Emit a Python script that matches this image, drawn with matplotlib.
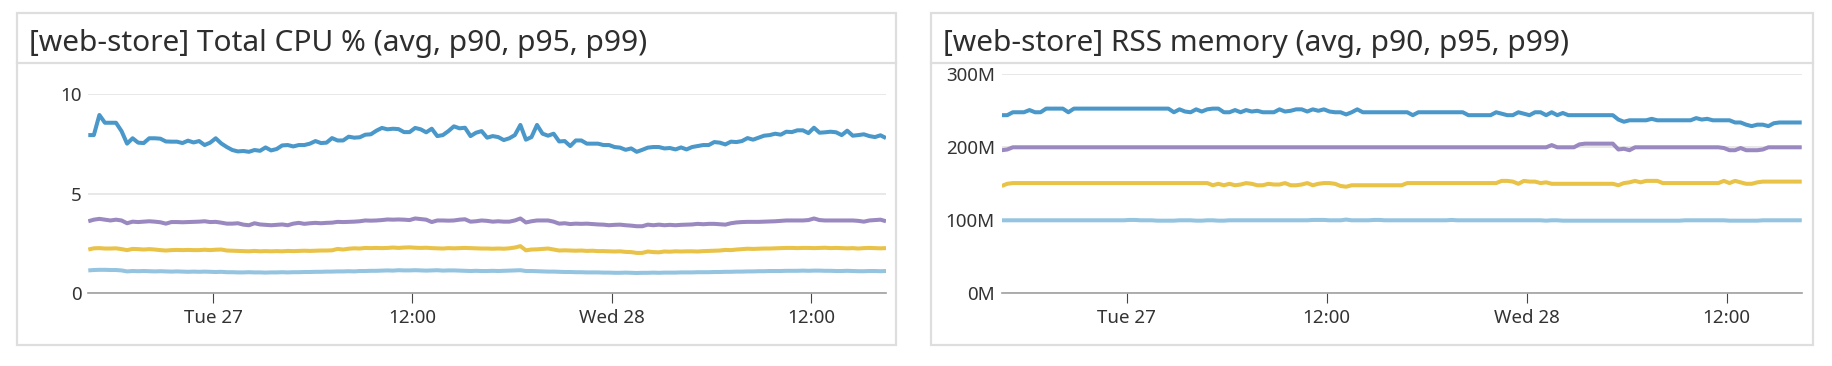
import matplotlib
matplotlib.use("Agg")
import matplotlib.pyplot as plt
import matplotlib.dates as mdates
from matplotlib.lines import Line2D
from matplotlib.patches import Rectangle
from matplotlib.ticker import FuncFormatter
import pandas as pd

plt.rcParams["font.family"] = ["Noto Sans", "DejaVu Sans"]

W, H, DPI = 1832, 366, 100

# one reading every 20 min, Mon 26 16:30 -> Wed 28 16:30
START = "2018-02-26 16:30"
STEP = "20min"

SERIES = ["avg", "p90", "p95", "p99"]
COLORS = {"avg": "#94c4e0", "p90": "#e9c248", "p95": "#9a88c0", "p99": "#4a97c9"}

CPU_TITLE = "[web-store] Total CPU % (avg, p90, p95, p99)"
MEM_TITLE = "[web-store] RSS memory (avg, p90, p95, p99)"
CPU_TICKS = [0, 5, 10]
MEM_TICKS = [0, 100, 200, 300]

# --- Total CPU % ---
cpu_avg = [
    1.15, 1.17, 1.18, 1.18, 1.17, 1.17, 1.15, 1.1, 1.12, 1.11, 1.12, 1.11,
    1.1, 1.11, 1.1, 1.09, 1.1, 1.09, 1.08, 1.09, 1.08, 1.09, 1.08, 1.07,
    1.08, 1.06, 1.06, 1.05, 1.05, 1.06, 1.05, 1.05, 1.04, 1.05, 1.05, 1.06,
    1.05, 1.06, 1.06, 1.07, 1.07, 1.08, 1.08, 1.09, 1.09, 1.1, 1.1, 1.11,
    1.1, 1.12, 1.12, 1.13, 1.13, 1.14, 1.15, 1.14, 1.16, 1.15, 1.15, 1.16,
    1.15, 1.14, 1.15, 1.16, 1.14, 1.15, 1.15, 1.14, 1.13, 1.12, 1.13, 1.12,
    1.12, 1.13, 1.12, 1.13, 1.14, 1.15, 1.16, 1.12, 1.12, 1.11, 1.1, 1.09,
    1.09, 1.08, 1.07, 1.07, 1.06, 1.06, 1.05, 1.05, 1.05, 1.04, 1.04, 1.03,
    1.03, 1.04, 1.03, 1.02, 1.03, 1.03, 1.04, 1.03, 1.04, 1.04, 1.04, 1.05,
    1.05, 1.05, 1.06, 1.06, 1.06, 1.07, 1.07, 1.08, 1.08, 1.09, 1.09, 1.1,
    1.1, 1.11, 1.11, 1.12, 1.12, 1.12, 1.13, 1.13, 1.13, 1.14, 1.13, 1.14,
    1.14, 1.13, 1.13, 1.12, 1.12, 1.13, 1.12, 1.11, 1.11, 1.12, 1.12, 1.11,
    1.12,
]
cpu_p90 = [
    2.2, 2.26, 2.27, 2.25, 2.25, 2.26, 2.22, 2.17, 2.23, 2.22, 2.2, 2.22,
    2.2, 2.17, 2.15, 2.17, 2.18, 2.17, 2.18, 2.17, 2.17, 2.19, 2.17, 2.19,
    2.2, 2.15, 2.14, 2.13, 2.12, 2.11, 2.13, 2.11, 2.12, 2.11, 2.12, 2.11,
    2.13, 2.12, 2.13, 2.14, 2.13, 2.14, 2.15, 2.15, 2.16, 2.23, 2.2, 2.24,
    2.26, 2.25, 2.28, 2.27, 2.28, 2.27, 2.28, 2.3, 2.28, 2.3, 2.31, 2.29,
    2.28, 2.29, 2.27, 2.26, 2.25, 2.27, 2.26, 2.27, 2.28, 2.27, 2.26, 2.25,
    2.25, 2.24, 2.25, 2.24, 2.26, 2.3, 2.37, 2.16, 2.2, 2.21, 2.23, 2.25,
    2.2, 2.15, 2.16, 2.15, 2.14, 2.15, 2.13, 2.14, 2.12, 2.12, 2.11, 2.1,
    2.11, 2.08, 2.07, 2.03, 2.03, 2.1, 2.07, 2.06, 2.1, 2.09, 2.11, 2.1,
    2.11, 2.11, 2.1, 2.12, 2.13, 2.14, 2.15, 2.18, 2.17, 2.2, 2.22, 2.24,
    2.23, 2.24, 2.25, 2.25, 2.26, 2.27, 2.28, 2.28, 2.27, 2.28, 2.28, 2.27,
    2.28, 2.29, 2.27, 2.28, 2.27, 2.26, 2.27, 2.25, 2.27, 2.28, 2.27, 2.26,
    2.27,
]
cpu_p95 = [
    3.62, 3.7, 3.74, 3.7, 3.66, 3.7, 3.66, 3.52, 3.6, 3.58, 3.6, 3.62,
    3.6, 3.57, 3.5, 3.58, 3.58, 3.57, 3.58, 3.59, 3.6, 3.62, 3.58, 3.59,
    3.55, 3.5, 3.5, 3.52, 3.45, 3.42, 3.52, 3.46, 3.44, 3.42, 3.44, 3.46,
    3.42, 3.5, 3.54, 3.49, 3.52, 3.54, 3.52, 3.54, 3.55, 3.59, 3.58, 3.59,
    3.6, 3.62, 3.66, 3.65, 3.66, 3.68, 3.71, 3.7, 3.71, 3.7, 3.68, 3.76,
    3.73, 3.7, 3.58, 3.66, 3.66, 3.65, 3.66, 3.7, 3.72, 3.6, 3.62, 3.66,
    3.64, 3.6, 3.62, 3.6, 3.6, 3.66, 3.76, 3.56, 3.62, 3.66, 3.66, 3.66,
    3.6, 3.5, 3.52, 3.48, 3.5, 3.49, 3.5, 3.48, 3.46, 3.45, 3.42, 3.44,
    3.45, 3.42, 3.4, 3.37, 3.37, 3.45, 3.42, 3.45, 3.42, 3.44, 3.42, 3.44,
    3.45, 3.46, 3.49, 3.47, 3.49, 3.49, 3.47, 3.45, 3.52, 3.56, 3.58, 3.59,
    3.59, 3.59, 3.6, 3.61, 3.62, 3.64, 3.66, 3.66, 3.66, 3.66, 3.68, 3.76,
    3.68, 3.66, 3.66, 3.66, 3.66, 3.66, 3.66, 3.64, 3.6, 3.66, 3.68, 3.7,
    3.62,
]
cpu_p99 = [
    7.95, 7.95, 8.96, 8.57, 8.57, 8.57, 8.15, 7.52, 7.79, 7.57, 7.55, 7.79,
    7.79, 7.77, 7.63, 7.62, 7.62, 7.55, 7.67, 7.58, 7.65, 7.45, 7.57, 7.79,
    7.53, 7.35, 7.2, 7.13, 7.15, 7.11, 7.2, 7.16, 7.33, 7.18, 7.25, 7.43,
    7.45, 7.38, 7.45, 7.45, 7.52, 7.65, 7.55, 7.57, 7.8, 7.68, 7.68, 7.87,
    7.82, 7.84, 7.97, 7.99, 8.17, 8.31, 8.24, 8.27, 8.25, 8.1, 8.1, 8.31,
    8.24, 8.09, 8.27, 7.9, 7.95, 8.15, 8.39, 8.29, 8.32, 7.9, 8.07, 8.15,
    7.82, 7.9, 7.85, 7.7, 7.79, 7.95, 8.46, 7.72, 7.85, 8.46, 8.02, 7.92,
    8.02, 7.63, 7.65, 7.4, 7.68, 7.68, 7.52, 7.52, 7.52, 7.45, 7.45, 7.35,
    7.32, 7.21, 7.28, 7.11, 7.21, 7.32, 7.35, 7.35, 7.28, 7.3, 7.23, 7.33,
    7.23, 7.35, 7.4, 7.45, 7.45, 7.6, 7.57, 7.48, 7.62, 7.6, 7.65, 7.8,
    7.72, 7.82, 7.92, 7.95, 8.02, 7.97, 8.12, 8.1, 8.19, 8.19, 8.05, 8.32,
    8.07, 8.09, 8.12, 8.09, 7.95, 8.17, 7.92, 7.95, 7.99, 7.9, 7.85, 7.94,
    7.8,
]

# --- RSS memory, in MB ---
mem_avg = [
    100, 100, 100, 100, 100, 100, 100, 100, 100, 100, 100, 100,
    100, 100, 100, 100, 100, 100, 100, 100, 100, 100, 100, 100.5,
    100.5, 100, 100, 100, 99.5, 99.5, 99.5, 99.5, 100, 100, 100, 99.5,
    99.5, 100, 100, 99.5, 99.5, 100, 100, 100, 100, 100, 100, 100,
    100, 100, 100, 100, 100, 100, 100, 100, 100.5, 100.5, 100.5, 100,
    100, 100, 101, 100, 100, 100, 100, 100.5, 100.5, 100, 100, 100,
    100, 100, 100, 100, 100, 100, 100, 100, 100, 100.5, 100, 100,
    100, 100, 100, 100, 100, 100, 100, 100, 100, 100, 100, 100,
    100, 100, 99.5, 100, 100, 99.5, 99.5, 99.5, 99.5, 99.5, 99.5, 99.5,
    99.5, 99.5, 99.5, 99.5, 99.5, 99.5, 99.5, 99.5, 99.5, 99.5, 99.5, 99.5,
    99.5, 99.5, 99.5, 100, 100, 100, 100, 100, 100, 100, 100, 99.5,
    99.5, 99.5, 99.5, 99.5, 99.5, 100, 100, 100, 100, 100, 100, 100,
    100,
]
mem_p90 = [
    147, 150, 151, 151, 151, 151, 151, 151, 151, 151, 151, 151,
    151, 151, 151, 151, 151, 151, 151, 151, 151, 151, 151, 151,
    151, 151, 151, 151, 151, 151, 151, 151, 151, 151, 151, 151,
    151, 151, 148, 150, 148, 150, 148, 149, 151, 150, 148, 148,
    150, 149, 149, 151, 148, 148, 149, 151, 148, 150, 151, 151,
    150, 147, 146, 148, 148, 148, 148, 148, 148, 148, 148, 148,
    148, 151, 151, 151, 151, 151, 151, 151, 151, 151, 151, 151,
    151, 151, 151, 151, 151, 151, 154, 154, 153, 150, 154, 153,
    153, 151, 152, 150, 150, 150, 150, 150, 150, 150, 150, 150,
    150, 150, 150, 148, 151, 152, 154, 152, 154, 154, 154, 151,
    151, 151, 151, 151, 151, 151, 151, 151, 151, 151, 154, 151,
    154, 152, 150, 150, 152, 153, 153, 153, 153, 153, 153, 153,
    153,
]
mem_p95 = [
    196, 197, 200, 200, 200, 200, 200, 200, 200, 200, 200, 200,
    200, 200, 200, 200, 200, 200, 200, 200, 200, 200, 200, 200,
    200, 200, 200, 200, 200, 200, 200, 200, 200, 200, 200, 200,
    200, 200, 200, 200, 200, 200, 200, 200, 200, 200, 200, 200,
    200, 200, 200, 200, 200, 200, 200, 200, 200, 200, 200, 200,
    200, 200, 200, 200, 200, 200, 200, 200, 200, 200, 200, 200,
    200, 200, 200, 200, 200, 200, 200, 200, 200, 200, 200, 200,
    200, 200, 200, 200, 200, 200, 200, 200, 200, 200, 200, 200,
    200, 200, 200, 203, 200, 200, 200, 200, 204, 205, 205, 205,
    205, 205, 205, 197, 198, 196, 200, 200, 200, 200, 200, 200,
    200, 200, 200, 200, 200, 200, 200, 200, 200, 200, 199, 196,
    196, 199, 196, 196, 196, 197, 200, 200, 200, 200, 200, 200,
    200,
]
mem_p99 = [
    244, 244, 248, 248, 248, 251, 248, 248, 253, 253, 253, 253,
    248, 253, 253, 253, 253, 253, 253, 253, 253, 253, 253, 253,
    253, 253, 253, 253, 253, 253, 253, 248, 252, 249, 248, 252,
    249, 252, 253, 253, 248, 248, 251, 248, 251, 249, 250, 248,
    248, 248, 252, 249, 250, 252, 252, 249, 252, 250, 252, 249,
    248, 248, 245, 248, 252, 248, 248, 248, 248, 248, 248, 248,
    248, 248, 244, 248, 248, 248, 248, 248, 248, 248, 248, 248,
    244, 244, 244, 244, 244, 248, 246, 244, 244, 248, 246, 244,
    248, 248, 244, 248, 244, 247, 244, 244, 244, 244, 244, 244,
    244, 244, 244, 238, 235, 237, 237, 237, 237, 239, 237, 237,
    237, 237, 237, 237, 237, 240, 238, 239, 237, 237, 237, 237,
    234, 234, 231, 229, 231, 231, 229, 233, 234, 234, 234, 234,
    234,
]


def fx(px):
    return px / W


def fy(py):
    return 1 - py / H


def fmt_time(x, pos):
    d = mdates.num2date(x)
    return d.strftime("%a %d") if d.hour == 0 else d.strftime("%H:%M")


def draw_panel(fig, box, title, plot, series, yticks, yfmt):
    left, top, right, bottom = box
    fig.add_artist(Rectangle((fx(left), fy(bottom)), fx(right - left), (bottom - top) / H,
                             transform=fig.transFigure, fill=False, ec="#dedede", lw=1.6))
    fig.add_artist(Line2D([fx(left), fx(right)], [fy(top + 50)] * 2,
                          transform=fig.transFigure, color="#dedede", lw=1.6))
    fig.text(fx(left + 12), fy(top + 38.5), title, fontsize=21.5, color="#2e2e2e",
             va="baseline")

    pl, pt, pr, pb = plot
    ax = fig.add_axes([fx(pl), fy(pb), fx(pr - pl), (pb - pt) / H])
    for name in SERIES:
        vals = series[name]
        t = pd.date_range(START, periods=len(vals), freq=STEP)
        ax.plot(t, vals, color=COLORS[name], lw=2.9, solid_joinstyle="round",
                solid_capstyle="butt")
    ax.set_xlim(t[0], t[-1])
    ax.set_ylim(yticks[0], yticks[-1])
    ax.set_yticks(yticks)
    ax.yaxis.set_major_formatter(FuncFormatter(yfmt))
    ax.xaxis.set_major_locator(mdates.HourLocator(byhour=[0, 12]))
    ax.xaxis.set_major_formatter(FuncFormatter(fmt_time))
    for s in ("top", "right", "left"):
        ax.spines[s].set_visible(False)
    ax.spines["bottom"].set_color("#a0a0a0")
    ax.spines["bottom"].set_linewidth(1.2)
    ax.grid(axis="y", color="#e8e8e8", lw=1.4)
    ax.set_axisbelow(True)
    ax.tick_params(axis="y", length=0, pad=5, labelsize=13.5, labelcolor="#333333")
    ax.tick_params(axis="x", length=7, width=0.8, color="#444444", pad=4.5,
                   labelsize=13.5, labelcolor="#333333")
    return ax


fig = plt.figure(figsize=(W / DPI, H / DPI), dpi=DPI)

cpu = {"avg": cpu_avg, "p90": cpu_p90, "p95": cpu_p95, "p99": cpu_p99}
mem = {"avg": mem_avg, "p90": mem_p90, "p95": mem_p95, "p99": mem_p99}

draw_panel(fig, (16.7, 12.7, 896, 345), CPU_TITLE, (88.3, 94.3, 886, 293.3),
           cpu, CPU_TICKS, lambda v, p: f"{v:g}")
draw_panel(fig, (931, 12.7, 1812.7, 345), MEM_TITLE, (1001.7, 74.3, 1801.7, 293.3),
           mem, MEM_TICKS, lambda v, p: f"{v:.0f}M")

fig.savefig("out.png", dpi=DPI)
